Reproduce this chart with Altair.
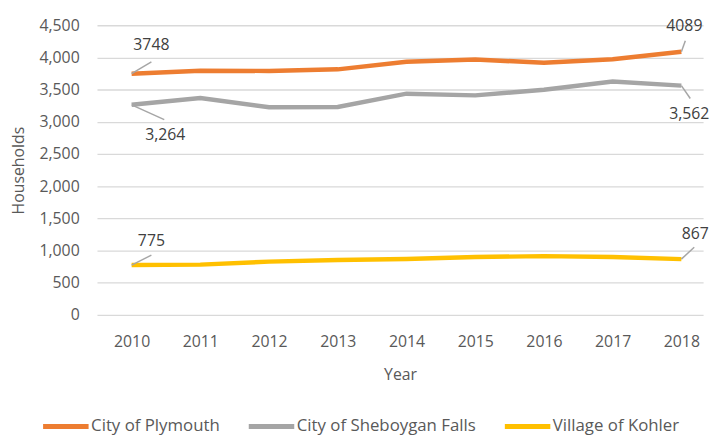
import altair as alt
import pandas as pd

years = [2010, 2011, 2012, 2013, 2014, 2015, 2016, 2017, 2018]
cities = ["City of Plymouth", "City of Sheboygan Falls", "Village of Kohler"]
plymouth = [3748, 3794, 3790, 3815, 3932, 3968, 3917, 3973, 4089]
sheboygan = [3264, 3369, 3226, 3231, 3437, 3411, 3498, 3625, 3562]
kohler = [775, 782, 828, 853, 868, 899, 914, 899, 867]
colors = ["#ED7D31", "#A5A5A5", "#FFC000"]
y_ticks = [0, 500, 1000, 1500, 2000, 2500, 3000, 3500, 4000, 4500]

# data labels: (city index, year, label text)
label_city = [0, 1, 2, 0, 1, 2]
label_year = [2010, 2010, 2010, 2018, 2018, 2018]
label_text = ["3748", "3,264", "775", "4089", "3,562", "867"]
# style: pixel offsets of label centre and leader end
label_dx = [20, 34, 20, 3, 8, 14]
label_dy = [-29, 31, -24, -26, 29, -25]
lead_dx = [20, 33, 20, 4, 9, 13]
lead_dy = [-12, 15, -10, -11, 13, -12]

W, H = 613, 293
X0, X1 = 2009.496, 2018.316
Y0, Y1 = 0, 4500
px_per_year = W / (X1 - X0)
px_per_unit = H / (Y1 - Y0)

series = [plymouth, sheboygan, kohler]
rows = []
for c, vals in zip(cities, series):
    for y, v in zip(years, vals):
        rows.append({"year": y, "value": v, "city": c})
df = pd.DataFrame(rows)

xs = alt.Scale(domain=[X0, X1], nice=False, zero=False)
ys = alt.Scale(domain=[Y0, Y1], nice=False)
xaxis = alt.Axis(values=years, format="d", grid=False, ticks=False, domain=False,
                 labelOverlap=False, labelFlush=False, labelPadding=19, titlePadding=17)
yaxis = alt.Axis(values=y_ticks, format=",.0f", ticks=False, domain=False,
                 labelPadding=18, titlePadding=13, gridColor="#D9D9D9", gridWidth=1.3)


def xenc():
    return alt.X("year:Q", scale=xs, title="Year", axis=xaxis)


def yenc():
    return alt.Y("value:Q", scale=ys, title="Households", axis=yaxis)


lines = alt.Chart(df).mark_line(strokeWidth=4.5).encode(
    x=xenc(), y=yenc(),
    color=alt.Color("city:N", scale=alt.Scale(domain=cities, range=colors),
                    legend=alt.Legend(title=None, orient="none", direction="horizontal",
                                      legendX=-57, legendY=380, symbolType="stroke",
                                      symbolSize=2116, symbolStrokeWidth=5,
                                      labelOffset=0, columnPadding=18, labelLimit=400,
                                      labelFontSize=17, labelColor="#595959",
                                      labelFont="Open Sans")),
)

layers = [lines]
for i in range(len(label_text)):
    v = series[label_city[i]][years.index(label_year[i])]
    d = pd.DataFrame({
        "year": [label_year[i]], "value": [v],
        "year2": [label_year[i] + lead_dx[i] / px_per_year],
        "value2": [v - lead_dy[i] / px_per_unit],
        "txt": [label_text[i]],
    })
    rule = alt.Chart(d).mark_rule(color="#A6A6A6", strokeWidth=1.5).encode(
        x=xenc(), y=yenc(), x2="year2:Q", y2="value2:Q")
    txt = alt.Chart(d).mark_text(dx=label_dx[i], dy=label_dy[i], fontSize=16,
                                 font="Open Sans", color="#404040",
                                 align="center", baseline="middle").encode(
        x=xenc(), y=yenc(), text="txt:N")
    layers += [rule, txt]

chart = alt.layer(*layers).properties(
    width=W, height=H,
    autosize=alt.AutoSizeParams(type="none"),
    padding={"left": 90, "top": 15, "right": 8, "bottom": 121},
).configure_view(stroke=None).configure_axis(
    labelFont="Open Sans", labelFontSize=16, labelColor="#595959",
    titleFont="Open Sans", titleFontSize=16, titleColor="#595959", titleFontWeight="normal",
)

chart.save("out.html", embed_options={"renderer": "svg", "actions": False})
